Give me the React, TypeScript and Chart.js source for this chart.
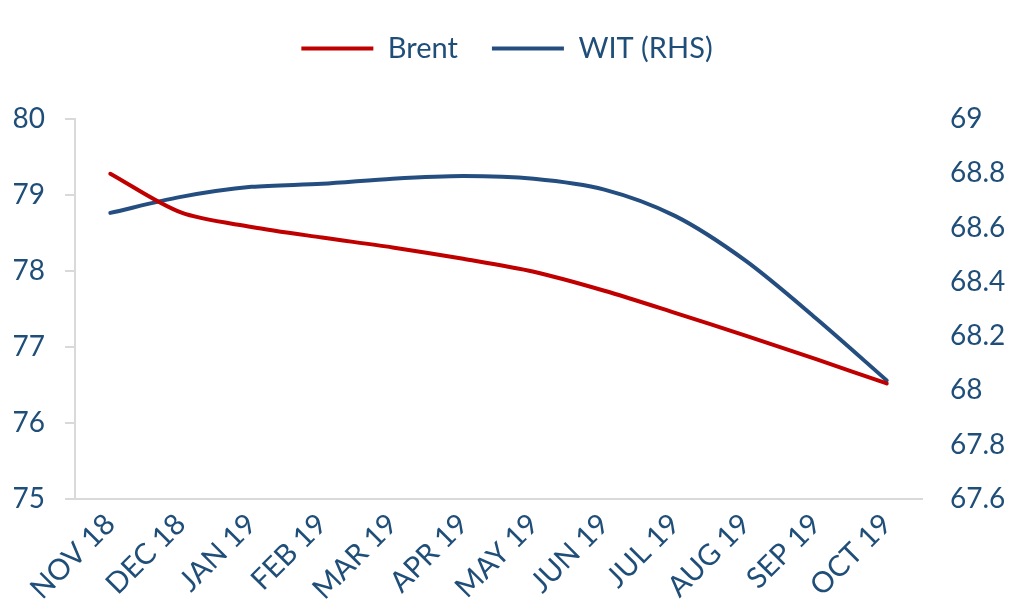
import React, { useEffect, useRef } from "react";
import { Chart, registerables } from "chart.js";

Chart.register(...registerables);

const categories = ["NOV 18", "DEC 18", "JAN 19", "FEB 19", "MAR 19", "APR 19", "MAY 19", "JUN 19", "JUL 19", "AUG 19", "SEP 19", "OCT 19"];
const brent = [79.28, 78.77, 78.58, 78.44, 78.31, 78.16, 77.99, 77.74, 77.45, 77.15, 76.84, 76.52];
const wit = [68.654, 68.713, 68.75, 68.761, 68.78, 68.79, 68.78, 68.74, 68.643, 68.478, 68.265, 68.037];

const TEXT = "#1F4E79";
const RED = "#C00000";
const BLUE = "#254E80";
const FONT = "Lato, 'Open Sans', sans-serif";

const legendSpacer = {
  id: "legendSpacer",
  beforeInit(chart: any) {
    const lg = chart.legend;
    if (!lg) return;
    const orig = lg.fit;
    lg.fit = function () {
      orig.call(this);
      this.height += 46;
    };
  },
};

export default function App() {
  const ref = useRef<HTMLCanvasElement>(null);
  useEffect(() => {
    const chart = new Chart(ref.current!, {
      type: "line",
      data: {
        labels: categories,
        datasets: [
          { label: "Brent", data: brent, borderColor: RED, backgroundColor: RED, borderWidth: 4, pointRadius: 0, tension: 0.3, yAxisID: "y", borderCapStyle: "round" },
          { label: "WIT (RHS)", data: wit, borderColor: BLUE, backgroundColor: BLUE, borderWidth: 4, pointRadius: 0, tension: 0.3, yAxisID: "y1", borderCapStyle: "round" },
        ],
      },
      plugins: [legendSpacer],
      options: {
        animation: false,
        responsive: false,
        maintainAspectRatio: false,
        layout: { padding: { top: 0, left: 0, right: 0, bottom: 0 } },
        plugins: {
          tooltip: { enabled: false },
          legend: {
            position: "top",
            labels: {
              usePointStyle: true,
              pointStyle: "line",
              pointStyleWidth: 72,
              boxHeight: 29,
              padding: 34,
              color: TEXT,
              font: { family: FONT, size: 29 },
            },
          },
        },
        scales: {
          x: {
            offset: true,
            grid: { display: false, drawTicks: false },
            border: { display: true, color: "#D9D9D9", width: 2 },
            ticks: { color: TEXT, font: { family: FONT, size: 29 }, minRotation: 45, maxRotation: 45, padding: 8, autoSkip: false },
            afterFit: (s: any) => { s.height = 112; },
          },
          y: {
            position: "left",
            min: 75,
            max: 80,
            grid: { display: true, drawOnChartArea: false, drawTicks: true, tickLength: 10, color: "#D9D9D9", lineWidth: 2 },
            border: { display: true, color: "#D9D9D9", width: 2 },
            ticks: { stepSize: 1, color: TEXT, font: { family: FONT, size: 28 }, padding: 20 },
            afterFit: (s: any) => { s.width = 75; },
          },
          y1: {
            position: "right",
            min: 67.6,
            max: 69,
            grid: { display: false, drawTicks: false },
            border: { display: false },
            ticks: { stepSize: 0.2, color: TEXT, font: { family: FONT, size: 28 }, padding: 28, callback: (v: any) => String(Math.round(Number(v) * 10) / 10) },
            afterFit: (s: any) => { s.width = 92; },
          },
        },
      },
    });
    return () => chart.destroy();
  }, []);
  return (
    <div style={{ position: "fixed", left: 0, top: 0, width: 1014, height: 611, background: "#fff" }}>
      <canvas ref={ref} width={1014} height={611} />
    </div>
  );
}
